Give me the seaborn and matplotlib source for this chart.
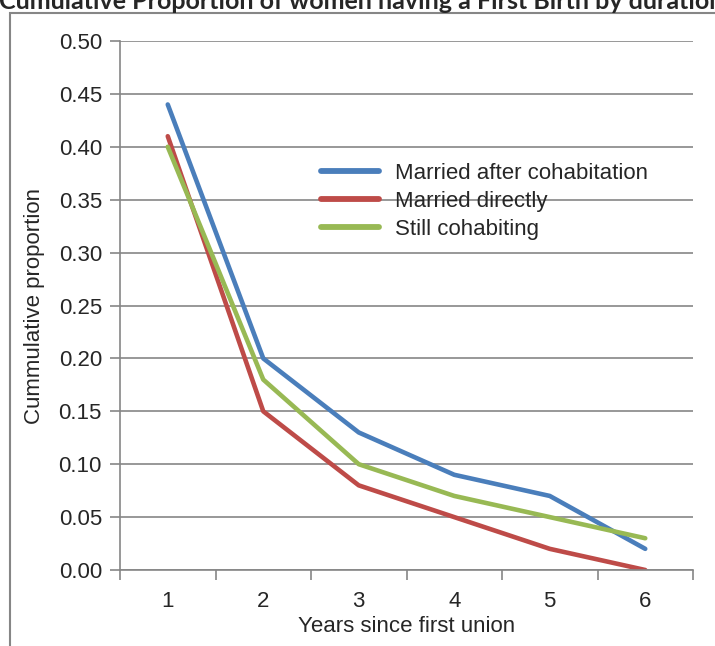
import pandas as pd
import numpy as np
import matplotlib
matplotlib.use("Agg")
import matplotlib.pyplot as plt
import seaborn as sns
from matplotlib.patches import Rectangle

sns.set_theme(style="white")
plt.rcParams["font.family"] = ["Liberation Sans", "DejaVu Sans"]

# ── Data ──────────────────────────────────────────────────────────────
years = [1, 2, 3, 4, 5, 6]
married_after_cohab = [0.44, 0.20, 0.13, 0.09, 0.07, 0.02]
married_directly = [0.41, 0.15, 0.08, 0.05, 0.02, 0.00]
still_cohabiting = [0.40, 0.18, 0.10, 0.07, 0.05, 0.03]
series_names = ["Married after cohabitation", "Married directly", "Still cohabiting"]

df = pd.DataFrame({
    "year": years * 3,
    "value": married_after_cohab + married_directly + still_cohabiting,
    "group": [n for n in series_names for _ in years],
})

COLORS = {
    "Married after cohabitation": "#4A7EBB",
    "Married directly": "#BE4B48",
    "Still cohabiting": "#98B954",
}

GRAY = "#868686"
FS = 16

fig = plt.figure(figsize=(7.15, 6.46), dpi=100)
ax = fig.add_axes([120 / 715, 1 - 570 / 646, (693 - 120) / 715, (570 - 41) / 646])

sns.lineplot(data=df, x="year", y="value", hue="group", palette=COLORS,
             hue_order=series_names, linewidth=3.3, ax=ax,
             solid_capstyle="round", solid_joinstyle="round")

ax.set_xlim(0.5, 6.5)
ax.set_ylim(0, 0.5)
yt = np.arange(0, 0.51, 0.05)
ax.set_yticks(yt)
ax.set_yticklabels([f"{v:.2f}" for v in yt], fontsize=FS)
ax.set_xticks(np.arange(0.5, 6.6, 1.0))
ax.set_xticklabels([])
ax.set_xticks(years, minor=True)
ax.set_xticklabels([str(y) for y in years], minor=True, fontsize=FS)
ax.tick_params(axis="x", which="minor", length=0, pad=15)
ax.tick_params(axis="x", which="major", direction="out", length=7, color=GRAY, width=1.2)
ax.tick_params(axis="y", direction="out", length=7, color=GRAY, width=1.2, pad=6)
ax.tick_params(bottom=True, left=True)

ax.yaxis.grid(True, color=GRAY, linewidth=1.2)
ax.set_axisbelow(True)
for s in ["top", "right"]:
    ax.spines[s].set_visible(False)
for s in ["left", "bottom"]:
    ax.spines[s].set_color(GRAY)
    ax.spines[s].set_linewidth(1.2)

ax.set_xlabel("Years since first union", fontsize=FS, labelpad=3)
ax.set_ylabel("Cummulative proportion", fontsize=FS, labelpad=10)

leg = ax.legend(loc="upper left", bbox_to_anchor=(0.335, 0.787), frameon=False,
                fontsize=FS, handlelength=2.6, handletextpad=0.75, labelspacing=0.33,
                borderaxespad=0)
for line in leg.get_lines():
    line.set_linewidth(4.2)
    line.set_solid_capstyle("round")

# outer chart border (partially cut off)
fig.patches.append(Rectangle((10 / 715, -0.1), 1.2, 1 - 13 / 646 + 0.1,
                             transform=fig.transFigure, fill=False,
                             edgecolor=GRAY, linewidth=1.5))

fig.text(-0.002, 1 - 9 / 646, "Cumulative Proportion of women having a First Birth by duration",
         fontsize=18, fontweight="bold", family=["Lato", "DejaVu Sans"],
         ha="left", va="baseline")

fig.savefig("out.png", dpi=100)
